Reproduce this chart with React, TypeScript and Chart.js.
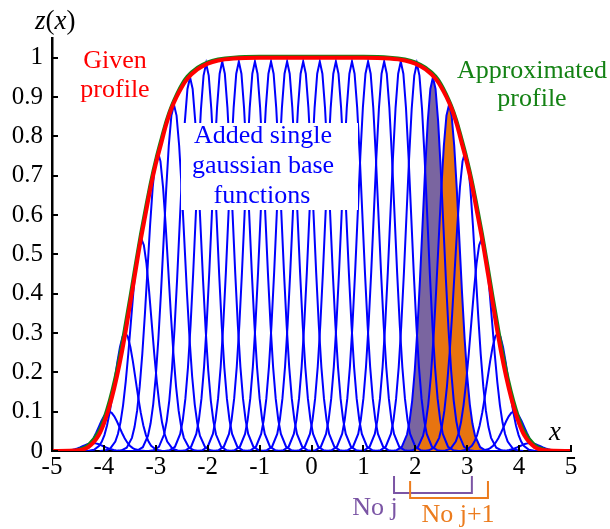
import React, { useEffect, useRef } from 'react';
import { Chart, registerables } from 'chart.js';

Chart.register(...registerables);

// ---- axis ticks ----
const xTickValues = [-5, -4, -3, -2, -1, 0, 1, 2, 3, 4, 5];
const xTickLabels = ['-5', '-4', '-3', '-2', '-1', '0', '1', '2', '3', '4', '5'];
const yTickValues = [0, 0.1, 0.2, 0.3, 0.4, 0.5, 0.6, 0.7, 0.8, 0.9, 1];
const yTickLabels = ['0', '0.1', '0.2', '0.3', '0.4', '0.5', '0.6', '0.7', '0.8', '0.9', '1'];

// ---- given profile (red) ----
const givenX = [-5, -4.5, -4.3, -4.1, -4, -3.9, -3.8, -3.7, -3.6, -3.5, -3.4, -3.3, -3.2, -3.1, -3, -2.9, -2.8, -2.7, -2.6, -2.5, -2.4, -2.2, -2, -1.8, -1.5, -1, 0, 1, 1.5, 1.8, 2, 2.2, 2.4, 2.5, 2.6, 2.7, 2.8, 2.9, 3, 3.1, 3.2, 3.3, 3.4, 3.5, 3.6, 3.7, 3.8, 3.9, 4, 4.1, 4.3, 4.5, 5];
const givenZ = [0, 0.002, 0.01, 0.04, 0.07, 0.11, 0.16, 0.22, 0.29, 0.37, 0.45, 0.53, 0.6, 0.67, 0.73, 0.78, 0.83, 0.87, 0.9, 0.925, 0.945, 0.97, 0.985, 0.993, 0.998, 1, 1, 1, 0.998, 0.993, 0.985, 0.97, 0.945, 0.925, 0.9, 0.87, 0.83, 0.78, 0.73, 0.67, 0.6, 0.53, 0.45, 0.37, 0.29, 0.22, 0.16, 0.11, 0.07, 0.04, 0.01, 0.002, 0];

// ---- approximated profile (green) ----
const approxX = [-5, -4.6, -4.5, -4.3, -4.1, -4, -3.9, -3.8, -3.7, -3.6, -3.5, -3.4, -3.3, -3.2, -3.1, -3, -2.9, -2.8, -2.7, -2.6, -2.5, -2.4, -2.2, -2, -1.8, -1.5, -1, 0, 1, 1.5, 1.8, 2, 2.2, 2.4, 2.5, 2.6, 2.7, 2.8, 2.9, 3, 3.1, 3.2, 3.3, 3.4, 3.5, 3.6, 3.7, 3.8, 3.9, 4, 4.1, 4.3, 4.5, 4.6, 5];
const approxZ = [0, 0.001, 0.004, 0.017, 0.052, 0.085, 0.128, 0.181, 0.244, 0.317, 0.394, 0.474, 0.551, 0.621, 0.688, 0.745, 0.795, 0.842, 0.879, 0.909, 0.934, 0.953, 0.976, 0.99, 0.997, 1.002, 1.004, 1.004, 1.004, 1.002, 0.997, 0.99, 0.976, 0.953, 0.934, 0.909, 0.879, 0.842, 0.795, 0.745, 0.688, 0.621, 0.551, 0.474, 0.394, 0.317, 0.244, 0.181, 0.128, 0.085, 0.052, 0.017, 0.004, 0.001, 0];

// ---- single gaussian base functions (blue) ----
const gaussCenters = [-4.21, -3.9, -3.59, -3.28, -2.96, -2.65, -2.34, -2.03, -1.72, -1.4, -1.09, -0.78, -0.47, -0.16, 0.16, 0.47, 0.78, 1.09, 1.4, 1.72, 2.03, 2.34, 2.65, 2.96, 3.28, 3.59, 3.9, 4.21];
const gaussHeights = [0.02, 0.1, 0.3, 0.54, 0.76, 0.88, 0.95, 0.985, 0.99, 0.99, 0.99, 0.99, 0.99, 0.99, 0.99, 0.99, 0.99, 0.99, 0.99, 0.99, 0.985, 0.95, 0.88, 0.76, 0.54, 0.3, 0.1, 0.02];
// shape of one base function: offsets from its centre and relative height
const shapeOffsets = [-0.8, -0.7, -0.6, -0.5, -0.45, -0.4, -0.35, -0.3, -0.25, -0.2, -0.15, -0.1, -0.05, 0, 0.05, 0.1, 0.15, 0.2, 0.25, 0.3, 0.35, 0.4, 0.45, 0.5, 0.6, 0.7, 0.8];
const shapeRatios = [0.0003, 0.0022, 0.011, 0.044, 0.08, 0.135, 0.216, 0.325, 0.458, 0.607, 0.755, 0.882, 0.969, 1, 0.969, 0.882, 0.755, 0.607, 0.458, 0.325, 0.216, 0.135, 0.08, 0.044, 0.011, 0.0022, 0.0003];

// highlighted functions "No j" and "No j+1"
const highlightIndex = [21, 22];
const bracketFrom = [1.59, 1.9];
const bracketTo = [3.09, 3.4];
const bracketLabels = ['No j', 'No j+1'];

const SERIF = '"Liberation Serif", "Times New Roman", serif';
const PURPLE_FILL = 'rgb(122,101,160)';
const ORANGE_FILL = 'rgb(232,116,16)';
const PURPLE_TXT = 'rgb(123,85,165)';
const ORANGE_TXT = 'rgb(236,124,30)';
const GREEN = 'rgb(20,130,20)';

function gaussPoints(i: number) {
  return shapeOffsets.map((o, k) => ({ x: gaussCenters[i] + o, y: gaussHeights[i] * shapeRatios[k] }));
}

const overlayPlugin = {
  id: 'overlay',
  afterDatasetsDraw(chart: any) {
    const { ctx, chartArea } = chart;
    const xs = chart.scales.x;
    const ys = chart.scales.y;
    ctx.save();
    // inward tick marks
    ctx.strokeStyle = '#000';
    ctx.lineWidth = 2;
    yTickValues.forEach((v) => {
      const py = Math.round(ys.getPixelForValue(v));
      ctx.beginPath();
      ctx.moveTo(chartArea.left, py);
      ctx.lineTo(chartArea.left + 6, py);
      ctx.stroke();
    });
    xTickValues.forEach((v) => {
      const px = Math.round(xs.getPixelForValue(v));
      ctx.beginPath();
      ctx.moveTo(px, chartArea.bottom + 1);
      ctx.lineTo(px, chartArea.bottom - 6);
      ctx.stroke();
    });

    // white label box
    ctx.fillStyle = '#fff';
    ctx.fillRect(181, 123, 177, 87);

    ctx.textAlign = 'center';
    ctx.textBaseline = 'alphabetic';
    ctx.font = `26px ${SERIF}`;
    ctx.fillStyle = '#0000ff';
    ctx.fillText('Added single', 263, 143);
    ctx.fillText('gaussian base', 263, 173);
    ctx.fillText('functions', 262, 203);

    ctx.fillStyle = '#ff0000';
    ctx.fillText('Given', 115, 68);
    ctx.fillText('profile', 115, 97);

    ctx.fillStyle = GREEN;
    ctx.fillText('Approximated', 532, 78);
    ctx.fillText('profile', 532, 106);

    // axis names
    ctx.fillStyle = '#000';
    ctx.textAlign = 'left';
    let cx = 35;
    const parts: [string, string][] = [['z', 'italic '], ['(', ''], ['x', 'italic '], [')', '']];
    parts.forEach(([t, st]) => {
      ctx.font = `${st}27px ${SERIF}`;
      ctx.fillText(t, cx, 29);
      cx += ctx.measureText(t).width;
    });
    ctx.font = `italic 27px ${SERIF}`;
    ctx.textAlign = 'center';
    ctx.fillText('x', 555, 440);

    // brackets
    const bracketColors = [PURPLE_TXT, ORANGE_TXT];
    const bracketTop = [476, 481];
    const bracketBottom = [493, 498];
    const labelPos = [[375, 515], [458, 522]];
    bracketFrom.forEach((f, i) => {
      const x1 = xs.getPixelForValue(f);
      const x2 = xs.getPixelForValue(bracketTo[i]);
      ctx.strokeStyle = bracketColors[i];
      ctx.lineWidth = 2;
      ctx.beginPath();
      ctx.moveTo(x1, bracketTop[i]);
      ctx.lineTo(x1, bracketBottom[i]);
      ctx.lineTo(x2, bracketBottom[i]);
      ctx.lineTo(x2, bracketTop[i]);
      ctx.stroke();
      ctx.fillStyle = bracketColors[i];
      ctx.font = `26px ${SERIF}`;
      ctx.textAlign = 'center';
      ctx.fillText(bracketLabels[i], labelPos[i][0], labelPos[i][1]);
    });
    ctx.restore();
  },
};

export default function App() {
  const ref = useRef<HTMLCanvasElement | null>(null);
  useEffect(() => {
    if (!ref.current) return;
    const lineBase = { pointRadius: 0, pointHoverRadius: 0, fill: false };
    const datasets: any[] = [
      {
        ...lineBase,
        label: 'Given profile',
        data: givenX.map((x, i) => ({ x, y: givenZ[i] })),
        borderColor: '#ff0000',
        borderWidth: 4,
        cubicInterpolationMode: 'monotone',
      },
      {
        ...lineBase,
        label: 'Approximated profile',
        data: approxX.map((x, i) => ({ x, y: approxZ[i] })),
        borderColor: GREEN,
        borderWidth: 2.5,
        cubicInterpolationMode: 'monotone',
      },
      ...gaussCenters.map((c, i) => ({
        ...lineBase,
        label: 'g' + i,
        data: gaussPoints(i),
        borderColor: '#0000ff',
        borderWidth: 2,
        tension: 0,
      })),
      {
        ...lineBase,
        label: 'No j+1',
        data: gaussPoints(highlightIndex[1]),
        borderWidth: 0,
        borderColor: 'rgba(0,0,0,0)',
        backgroundColor: ORANGE_FILL,
        fill: 'origin',
        tension: 0,
      },
      {
        ...lineBase,
        label: 'No j',
        data: gaussPoints(highlightIndex[0]),
        borderWidth: 0,
        borderColor: 'rgba(0,0,0,0)',
        backgroundColor: PURPLE_FILL,
        fill: 'origin',
        tension: 0,
      },
    ];

    const chart = new Chart(ref.current, {
      type: 'line',
      data: { datasets },
      options: {
        animation: false,
        responsive: false,
        devicePixelRatio: 1,
        events: [],
        layout: { padding: { top: 38, right: 39, left: 0, bottom: 0 } },
        plugins: { legend: { display: false }, tooltip: { enabled: false } },
        scales: {
          x: {
            type: 'linear',
            min: -5,
            max: 5,
            afterFit: (s: any) => { s.height = 78; },
            afterBuildTicks: (s: any) => { s.ticks = xTickValues.map((v) => ({ value: v })); },
            grid: { display: false, drawTicks: false, tickLength: 0 },
            border: { display: true, color: '#000', width: 2 },
            ticks: {
              padding: 1,
              color: '#000',
              font: { family: SERIF, size: 25 },
              maxRotation: 0,
              autoSkip: false,
              callback: (v: any) => xTickLabels[xTickValues.indexOf(Math.round(Number(v)))] ?? '',
            },
          },
          y: {
            type: 'linear',
            min: 0,
            max: 1.05,
            afterFit: (s: any) => { s.width = 52; },
            afterBuildTicks: (s: any) => { s.ticks = yTickValues.map((v) => ({ value: v })); },
            grid: { display: false, drawTicks: false, tickLength: 0 },
            border: { display: true, color: '#000', width: 2.5 },
            ticks: {
              padding: 9,
              color: '#000',
              font: { family: SERIF, size: 25 },
              autoSkip: false,
              callback: (v: any) => yTickLabels[Math.round(Number(v) * 10)] ?? '',
            },
          },
        },
      },
      plugins: [overlayPlugin],
    } as any);
    return () => chart.destroy();
  }, []);

  return (
    <div style={{ position: 'absolute', left: 0, top: 0, width: 610, height: 529, background: '#fff' }}>
      <canvas ref={ref} width={610} height={529} style={{ display: 'block', width: 610, height: 529 }} />
    </div>
  );
}
